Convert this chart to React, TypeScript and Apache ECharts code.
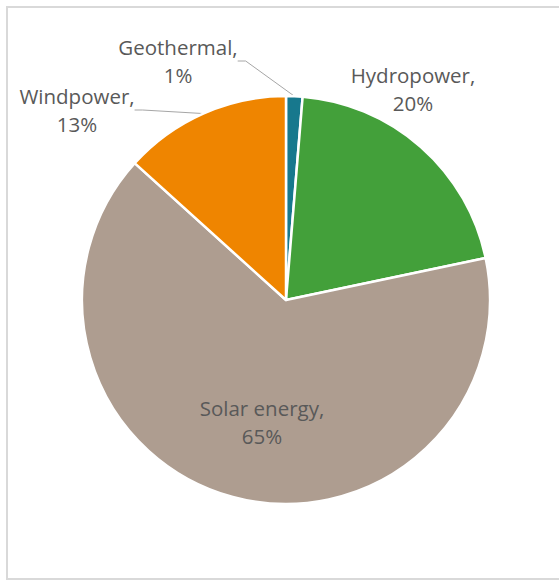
import React, { useEffect, useRef } from "react";
import * as echarts from "echarts";

const categories = ["Geothermal", "Hydropower", "Solar energy", "Windpower"];
const values = [1.3, 20.4, 65.0, 13.3];
const colors = ["#17788d", "#43a03a", "#ae9d90", "#ef8500"];

// label block centres (text only)
const labelCentres: [number, number][] = [
  [178, 61],
  [413, 89],
  [262, 422],
  [77, 110],
];

export default function App() {
  const ref = useRef<HTMLDivElement>(null);
  useEffect(() => {
    if (!ref.current) return;
    const chart = echarts.init(ref.current, undefined, { renderer: "svg" });
    const data = categories.map((name, i) => ({
      name,
      value: values[i],
      itemStyle: { color: colors[i] },
      label: name === "Solar energy" ? { position: "inside" } : undefined,
      labelLine: name === "Hydropower" || name === "Solar energy" ? { show: false } : undefined,
    }));
    chart.setOption({
      animation: false,
      backgroundColor: "#ffffff",
      graphic: [
        {
          type: "rect",
          shape: { x: 7, y: 7, width: 800, height: 572 },
          style: { fill: "none", stroke: "#d9d9d9", lineWidth: 2 },
          silent: true,
        },
      ],
      series: [
        {
          type: "pie",
          center: [286, 300],
          radius: 204,
          startAngle: 90,
          clockwise: true,
          data,
          itemStyle: { borderColor: "#ffffff", borderWidth: 2.5 },
          label: {
            show: true,
            position: "outside",
            formatter: (p: any) => `${p.name},\n${Math.round(p.percent)}%`,
            fontFamily: "Open Sans",
            fontSize: 20.5,
            lineHeight: 28,
            color: "#595959",
            align: "center",
            overflow: "none",
          },
          labelLine: {
            show: true,
            length: 15,
            length2: 8,
            lineStyle: { color: "#a6a6a6", width: 1 },
          },
          labelLayout: (params: any) => {
            const c = labelCentres[params.dataIndex];
            return { x: c[0], y: c[1], align: "center", verticalAlign: "middle" };
          },
        },
      ],
    });
    return () => chart.dispose();
  }, []);
  return (
    <div
      ref={ref}
      style={{ position: "absolute", left: 0, top: 0, width: 559, height: 582 }}
    />
  );
}
